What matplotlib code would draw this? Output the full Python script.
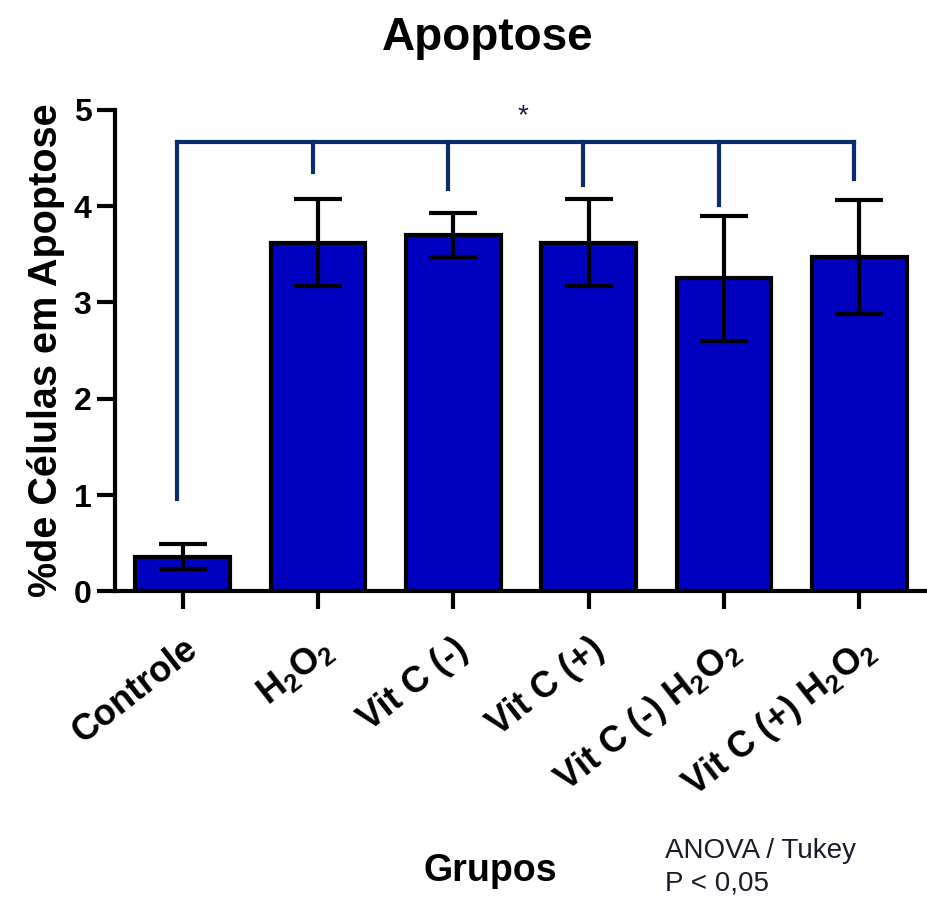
import numpy as np
import matplotlib.pyplot as plt

plt.rcParams['font.family'] = ['Liberation Sans', 'DejaVu Sans']
plt.rcParams['mathtext.fontset'] = 'custom'
plt.rcParams['mathtext.rm'] = 'Liberation Sans:bold'
plt.rcParams['mathtext.default'] = 'rm'

# data
grupos = ["Controle", "H$_2$O$_2$", "Vit C (-)", "Vit C (+)",
          "Vit C (-) H$_2$O$_2$", "Vit C (+) H$_2$O$_2$"]
media = [0.36, 3.62, 3.70, 3.62, 3.25, 3.47]
erro = [0.13, 0.45, 0.23, 0.45, 0.65, 0.59]

# significance bracket
bracket_y = 4.67
leg_ends = [0.96, 4.35, 4.18, 4.22, 4.01, 4.28]

fig = plt.figure(figsize=(9.28, 9.07), dpi=100)
ax = fig.add_axes([0.124, 0.348, 0.875, 0.531])

x = np.arange(len(grupos))
ax.bar(x, media, 0.7, color="#0000c0", edgecolor="black", linewidth=3, zorder=2)
ax.errorbar(x, media, yerr=erro, fmt="none", ecolor="black", elinewidth=3,
            capsize=17, capthick=3, zorder=3)

# bracket
navy = "#0b2d6e"
leg_x = x - 0.04
ax.plot([leg_x[0], leg_x[-1]], [bracket_y, bracket_y], color=navy, lw=3, clip_on=False)
for xi, ye in zip(leg_x, leg_ends):
    ax.plot([xi, xi], [bracket_y, ye], color=navy, lw=3, clip_on=False)
ax.text(2.51, 4.93, "*", ha="center", va="center", fontsize=20, color="#1a1a3a")

ax.set_xlim(-0.5, 5.5)
ax.set_ylim(0, 5)
ax.set_yticks([0, 1, 2, 3, 4, 5])
ax.set_xticks(x)
ax.set_xticklabels(grupos, rotation=38, ha="right", rotation_mode="anchor",
                   fontsize=26, fontweight="bold")
for lab in ax.get_yticklabels():
    lab.set_fontsize(23)
    lab.set_fontweight("bold")

ax.spines["top"].set_visible(False)
ax.spines["right"].set_visible(False)
ax.spines["left"].set_linewidth(3)
ax.spines["bottom"].set_linewidth(3)
ax.tick_params(axis="both", direction="out", length=13, width=3)
ax.tick_params(axis="y", pad=4)
ax.tick_params(axis="x", pad=16)

ax.set_ylabel("%de Células em Apoptose", fontsize=28.5, fontweight="bold", labelpad=6)
fig.text(0.525, 0.958, "Apoptose", ha="center", va="center", fontsize=33, fontweight="bold")
fig.text(0.528, 0.040, "Grupos", ha="center", va="center", fontsize=27, fontweight="bold")
fig.text(0.717, 0.044, "ANOVA / Tukey\nP < 0,05", ha="left", va="center",
         fontsize=20, linespacing=1.3, color="#1a1a2a")

fig.savefig("out.png", dpi=100, facecolor="white")
